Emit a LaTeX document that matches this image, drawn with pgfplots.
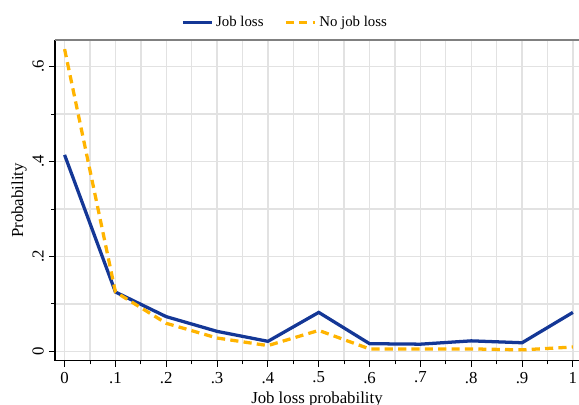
\documentclass[border=0pt]{standalone}
\usepackage{fontspec}
\setmainfont{Liberation Serif}
\usepackage{pgfplots}
\pgfplotsset{compat=1.18}
\usetikzlibrary{calc}
\definecolor{jobblue}{RGB}{20,55,150}
\definecolor{noorange}{RGB}{255,180,0}
\definecolor{gridgray}{RGB}{226,226,226}
\begin{document}
\begin{tikzpicture}
\begin{axis}[
  name=ax,
  scale only axis,
  width=353pt, height=216pt,
  xmin=-0.019, xmax=1.012,
  ymin=-0.02, ymax=0.656,
  axis x line*=bottom, axis y line*=left,
  axis line style={black, line width=0.8pt, -},
  xtick={0,0.1,0.2,0.3,0.4,0.5,0.6,0.7,0.8,0.9,1},
  xticklabels={0,.1,.2,.3,.4,.5,.6,.7,.8,.9,1},
  ytick={0,0.2,0.4,0.6},
  yticklabels={0,.2,.4,.6},
  minor x tick num=1, minor y tick num=1,
  tick align=outside,
  major tick length=4pt, minor tick length=2.5pt,
  tick style={black, line width=0.6pt},
  grid=both,
  major grid style={gridgray, line width=0.9pt},
  minor grid style={gridgray, line width=0.9pt},
  yticklabel style={rotate=90, anchor=south},
  ticklabel style={font=\fontsize{11.3}{13}\selectfont},
  label style={font=\fontsize{11.3}{13}\selectfont},
  xlabel={Job loss probability},
  ylabel={Probability},
  xlabel style={yshift=1pt},
  ylabel style={yshift=-3pt},
  legend style={at={(0.44,1.015)}, anchor=south, draw=none, fill=none,
    legend columns=2, /tikz/every even column/.append style={column sep=12pt},
    font=\normalsize},
  legend image code/.code={\draw[#1] (0cm,0cm) -- (0.68cm,0cm);},
]
\addplot[jobblue, line width=2.2pt] coordinates {
  (0,0.414) (0.1,0.125) (0.2,0.073) (0.3,0.042) (0.4,0.021) (0.5,0.082)
  (0.6,0.016) (0.7,0.015) (0.8,0.022) (0.9,0.018) (1,0.082)};
\addlegendentry{Job loss}
\addplot[noorange, line width=2.2pt, dash pattern=on 5.5pt off 3.5pt] coordinates {
  (0,0.637) (0.1,0.125) (0.2,0.059) (0.3,0.028) (0.4,0.012) (0.5,0.044)
  (0.6,0.005) (0.7,0.005) (0.8,0.005) (0.9,0.003) (1,0.009)};
\addlegendentry{No job loss}
\end{axis}
\draw[gray, line width=1.2pt] (ax.north west) -- (ax.north east);
\pgfresetboundingbox
\path[use as bounding box] ($(ax.south west)+(-37pt,-29.6pt)$) rectangle ($(ax.north east)+(0pt,27pt)$);
\end{tikzpicture}
\end{document}
